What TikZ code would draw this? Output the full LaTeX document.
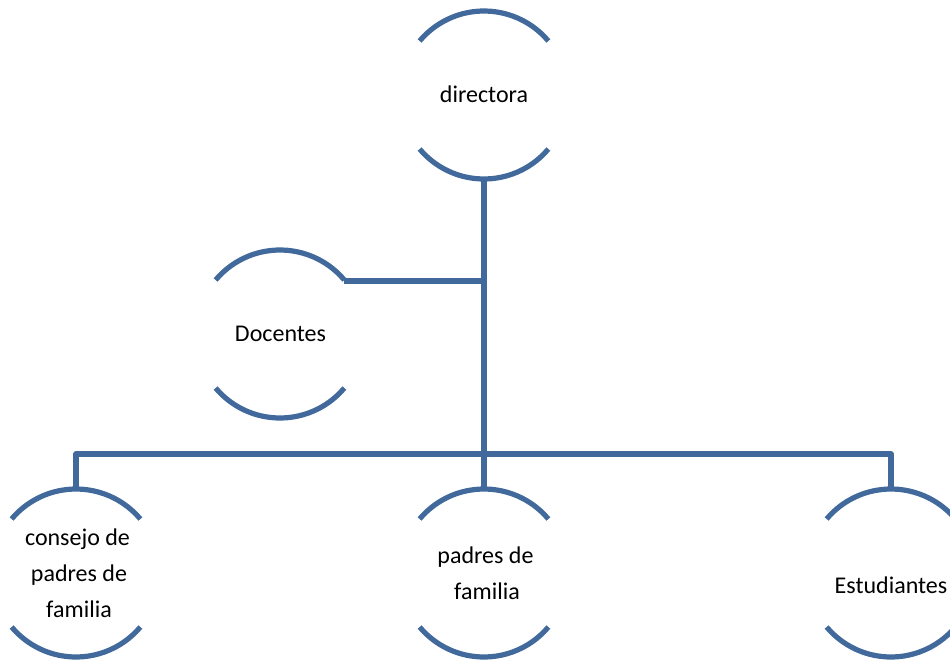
\documentclass[tikz,border=0pt]{standalone}
\usepackage{fontspec}
\setmainfont{Carlito}
\definecolor{orgblue}{HTML}{41699B}
\tikzset{
  x=1pt,y=-1pt,
  orgcircle/.style={circle,minimum size=168pt,inner sep=0pt,outer sep=0pt},
  orgarc/.style={draw=orgblue,line width=5.2pt,line cap=butt},
  orgline/.style={draw=orgblue,line width=5.2pt,line join=round},
  orgtext/.style={font=\fontsize{24pt}{36pt}\selectfont,align=center,inner sep=0pt,text=black}
}
\newcommand{\orgarcs}[1]{%
  \draw[orgarc] (#1.40) arc[start angle=40,end angle=140,radius=84pt];
  \draw[orgarc] (#1.-40) arc[start angle=-40,end angle=-140,radius=84pt];
}
\begin{document}
\begin{tikzpicture}
\useasboundingbox (0,0) rectangle (950,661);
\clip (0,0) rectangle (950,661);
\node[orgcircle] (dir) at (484,95) {};
\node[orgcircle] (doc) at (280,334) {};
\node[orgcircle] (con) at (76,573) {};
\node[orgcircle] (pad) at (484,573) {};
\node[orgcircle] (est) at (891,573) {};
\orgarcs{dir}\orgarcs{doc}\orgarcs{con}\orgarcs{pad}\orgarcs{est}
\node[orgtext] (tdir) at (484,94) {directora};
\node[orgtext] (tdoc) at (280.5,333.5) {Docentes};
\node[orgtext] (tcon) at (77.5,573) {consejo de\\\hspace*{3pt}padres de\\\hspace*{3pt}familia};
\node[orgtext] (tpad) at (485.5,573) {padres de\\\hspace*{3pt}familia};
\node[orgtext] (test) at (891,585) {Estudiantes};
\coordinate (bus) at (484,454);
\coordinate (tee) at (484,281);
\coordinate (docr) at (344,281);
\draw[orgline] (dir.south) -- (pad.north);
\draw[orgline] (docr) -- (tee);
\draw[orgline] (con.north) -- (con.north |- bus) -- (est.north |- bus) -- (est.north);
\end{tikzpicture}
\end{document}
